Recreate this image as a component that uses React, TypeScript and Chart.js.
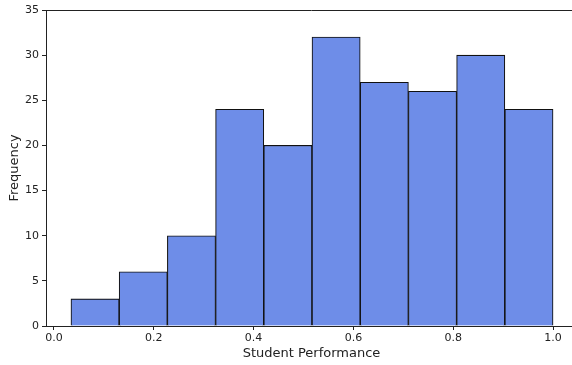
import React, { useEffect, useRef } from "react";
import { Chart, registerables } from "chart.js";

Chart.register(...registerables);

const binEdges = [0.034, 0.1306, 0.2272, 0.3238, 0.4204, 0.517, 0.6136, 0.7102, 0.8068, 0.9034, 1.0];
const counts = [3, 6, 10, 24, 20, 32, 27, 26, 30, 24];
const xTicks = [0.0, 0.2, 0.4, 0.6, 0.8, 1.0];
const yTicks = [0, 5, 10, 15, 20, 25, 30, 35];

const FONT = "'DejaVu Sans', sans-serif";

const topSpine = {
  id: "topSpine",
  afterDraw(chart: any) {
    const { ctx, chartArea } = chart;
    ctx.save();
    ctx.strokeStyle = "#222";
    ctx.lineWidth = 1;
    ctx.beginPath();
    ctx.moveTo(chartArea.left, chartArea.top + 0.5);
    ctx.lineTo(chartArea.right, chartArea.top + 0.5);
    ctx.stroke();
    ctx.restore();
  },
};

export default function App() {
  const ref = useRef<HTMLCanvasElement | null>(null);
  useEffect(() => {
    if (!ref.current) return;
    const data = counts.map((c, i) => ({ x: (binEdges[i] + binEdges[i + 1]) / 2, y: c }));
    const chart = new Chart(ref.current, {
      type: "bar",
      data: {
        datasets: [
          {
            data,
            backgroundColor: "#6e8de8",
            borderColor: "#111",
            borderWidth: 1.1,
            barPercentage: 1,
            categoryPercentage: 1,
          } as any,
        ],
      },
      options: {
        responsive: false,
        animation: false,
        devicePixelRatio: 1,
        layout: { padding: { top: 10, right: 3, left: 0, bottom: 0 } },
        plugins: { legend: { display: false }, tooltip: { enabled: false } },
        scales: {
          x: {
            type: "linear",
            min: -0.016,
            max: 1.048,
            offset: false,
            afterBuildTicks: (s: any) => {
              s.ticks = xTicks.map((v) => ({ value: v }));
            },
            afterFit: (s: any) => {
              s.height = 39;
            },
            ticks: {
              font: { family: FONT, size: 11 },
              color: "#222",
              padding: 2,
              maxRotation: 0,
              autoSkip: false,
              callback: (v: any) => Number(v).toFixed(1),
            },
            grid: { drawOnChartArea: false, offset: false, tickLength: 4, color: "#222" },
            border: { display: true, color: "#222", width: 1 },
            title: {
              display: true,
              text: "Student Performance",
              font: { family: FONT, size: 13 },
              color: "#222",
              padding: { top: 0, bottom: 4 },
            },
          },
          y: {
            min: 0,
            max: 35,
            afterBuildTicks: (s: any) => {
              s.ticks = yTicks.map((v) => ({ value: v }));
            },
            afterFit: (s: any) => {
              s.width = 46;
            },
            ticks: {
              font: { family: FONT, size: 11 },
              color: "#222",
              padding: 3,
            },
            grid: { drawOnChartArea: false, tickLength: 4, color: "#222" },
            border: { display: true, color: "#222", width: 1 },
            title: {
              display: true,
              text: "Frequency",
              font: { family: FONT, size: 13 },
              color: "#222",
              padding: { top: 7, bottom: 0 },
            },
          },
        },
      },
      plugins: [topSpine],
    });
    return () => chart.destroy();
  }, []);
  return (
    <div style={{ position: "fixed", left: 0, top: 0, width: 572, height: 365, overflow: "hidden", background: "#fff" }}>
      <canvas ref={ref} width={580} height={365} style={{ display: "block", width: 580, height: 365 }} />
    </div>
  );
}
